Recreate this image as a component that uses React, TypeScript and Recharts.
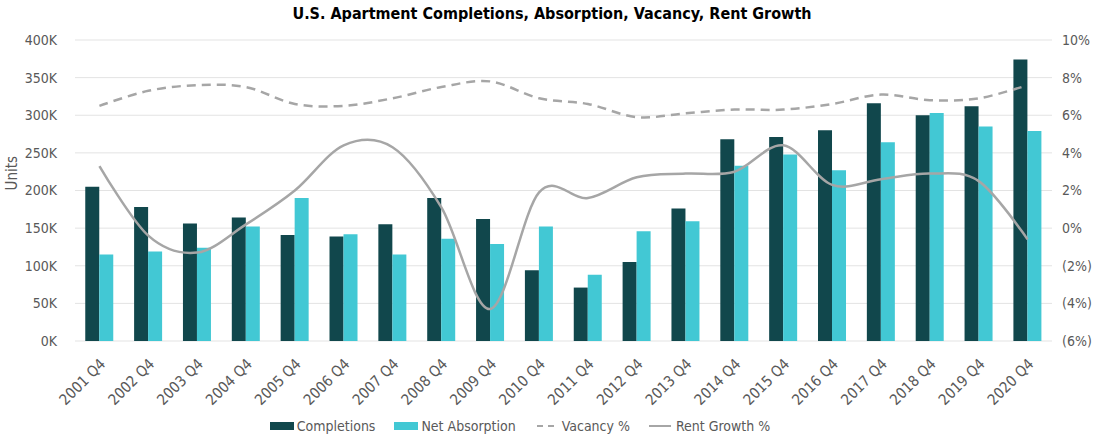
import { ComposedChart, Bar, Line, XAxis, YAxis, CartesianGrid, Legend } from 'recharts'

const periods = [
  '2001 Q4', '2002 Q4', '2003 Q4', '2004 Q4', '2005 Q4', '2006 Q4', '2007 Q4', '2008 Q4', '2009 Q4', '2010 Q4',
  '2011 Q4', '2012 Q4', '2013 Q4', '2014 Q4', '2015 Q4', '2016 Q4', '2017 Q4', '2018 Q4', '2019 Q4', '2020 Q4',
]
const completions = [
  205000, 178000, 156000, 164000, 141000, 139000, 155000, 190000, 162000, 94000,
  71000, 105000, 176000, 268000, 271000, 280000, 316000, 300000, 312000, 374000,
]
const netAbsorption = [
  115000, 119000, 124000, 152000, 190000, 142000, 115000, 136000, 129000, 152000,
  88000, 146000, 159000, 233000, 248000, 227000, 264000, 303000, 285000, 279000,
]
const vacancy = [
  6.5, 7.3, 7.6, 7.5, 6.6, 6.5, 6.9, 7.5, 7.8, 6.9,
  6.6, 5.9, 6.1, 6.3, 6.3, 6.6, 7.1, 6.8, 6.9, 7.6,
]
const rentGrowth = [
  3.3, -0.4, -1.3, 0.2, 2.0, 4.4, 4.3, 1.1, -4.3, 1.9,
  1.6, 2.7, 2.9, 3.0, 4.4, 2.3, 2.6, 2.9, 2.5, -0.6,
]
const unitTicks = [0, 50000, 100000, 150000, 200000, 250000, 300000, 350000, 400000]
const pctTicks = [-6, -4, -2, 0, 2, 4, 6, 8, 10]

const data = periods.map((period, i) => ({
  period,
  completions: completions[i],
  absorption: netAbsorption[i],
  vacancy: vacancy[i],
  rent: rentGrowth[i],
}))

const FONT = "'DejaVu Sans Condensed', Roboto, sans-serif"
const TEXT = '#595959'
const DARK = '#11474C'
const CYAN = '#42C8D4'
const GREY = '#A6A6A6'

const fmtUnits = (v: number) => `${v / 1000}K`
const fmtPct = (v: number) => (v < 0 ? `(${Math.abs(v)}%)` : `${v}%`)

// Excel-like smoothed line (cardinal / catmull-rom bezier)
function smoothCurve(context: any) {
  const k = 1 / 6
  let x0 = NaN, x1 = NaN, x2 = NaN, y0 = NaN, y1 = NaN, y2 = NaN
  let n = 0
  const seg = (x: number, y: number) => {
    context.bezierCurveTo(x1 + k * (x2 - x0), y1 + k * (y2 - y0), x2 + k * (x1 - x), y2 + k * (y1 - y), x2, y2)
  }
  return {
    areaStart() {},
    areaEnd() {},
    lineStart() {
      x0 = x1 = x2 = y0 = y1 = y2 = NaN
      n = 0
    },
    lineEnd() {
      if (n === 2) context.lineTo(x2, y2)
      else if (n === 3) seg(x1, y1)
    },
    point(x: number, y: number) {
      x = +x
      y = +y
      if (n === 0) {
        n = 1
        context.moveTo(x, y)
      } else if (n === 1) {
        n = 2
        x1 = x
        y1 = y
      } else {
        n = 3
        seg(x, y)
      }
      x0 = x1; x1 = x2; x2 = x
      y0 = y1; y1 = y2; y2 = y
    },
  }
}

function PeriodTick({ x, y, payload }: any) {
  const ax = x + 7
  const ay = y + 16
  return (
    <text
      x={ax}
      y={ay}
      transform={`rotate(-45, ${ax}, ${ay})`}
      textAnchor="end"
      fill={TEXT}
      fontSize={15}
      fontFamily={FONT}
    >
      {payload.value}
    </text>
  )
}

function LegendContent() {
  const items = [
    { label: 'Completions', kind: 'box', color: DARK },
    { label: 'Net Absorption', kind: 'box', color: CYAN },
    { label: 'Vacancy %', kind: 'dash', color: GREY },
    { label: 'Rent Growth %', kind: 'line', color: GREY },
  ]
  return (
    <div
      style={{
        display: 'flex',
        justifyContent: 'center',
        gap: 19,
        marginTop: 4,
        paddingRight: 64,
        fontFamily: FONT,
        fontSize: 14,
        color: TEXT,
      }}
    >
      {items.map((it) => (
        <div key={it.label} style={{ display: 'flex', alignItems: 'center', gap: 3 }}>
          <svg width={24} height={10}>
            {it.kind === 'box' && <rect x={0} y={1} width={24} height={8} fill={it.color} />}
            {it.kind === 'dash' && (
              <line x1={2} y1={5} x2={22} y2={5} stroke={it.color} strokeWidth={2} strokeDasharray="6 5" />
            )}
            {it.kind === 'line' && <line x1={0} y1={5} x2={22} y2={5} stroke={it.color} strokeWidth={2} />}
          </svg>
          <span>{it.label}</span>
        </div>
      ))}
    </div>
  )
}

export default function App() {
  return (
    <div style={{ position: 'absolute', left: 0, top: 0, width: 1104, height: 440, background: '#fff' }}>
      <div
        style={{
          position: 'absolute',
          top: 4,
          width: 1104,
          textAlign: 'center',
          fontFamily: FONT,
          fontWeight: 'bold',
          fontSize: 16,
          color: '#000',
        }}
      >
        U.S. Apartment Completions, Absorption, Vacancy, Rent Growth
      </div>
      <ComposedChart
        width={1104}
        height={440}
        data={data}
        margin={{ top: 40, right: 0, bottom: 0, left: 0 }}
        barCategoryGap="21%"
        barGap={0}
      >
        <CartesianGrid yAxisId="left" vertical={false} stroke="#E3E3E3" />
        <XAxis
          dataKey="period"
          axisLine={false}
          tickLine={false}
          interval={0}
          height={73}
          tick={<PeriodTick />}
        />
        <YAxis
          yAxisId="left"
          width={75}
          domain={[0, 400000]}
          ticks={unitTicks}
          tickFormatter={fmtUnits}
          axisLine={false}
          tickLine={false}
          tickMargin={12}
          tick={{ fill: TEXT, fontSize: 14, fontFamily: FONT }}
          label={{ value: 'Units', angle: -90, position: 'insideLeft', offset: 12, fill: TEXT, fontSize: 15, fontFamily: FONT }}
        />
        <YAxis
          yAxisId="right"
          orientation="right"
          width={52}
          domain={[-6, 10]}
          ticks={pctTicks}
          tickFormatter={fmtPct}
          axisLine={false}
          tickLine={false}
          tickMargin={4}
          tick={{ fill: TEXT, fontSize: 14, fontFamily: FONT, textAnchor: 'start' }}
        />
        <Legend verticalAlign="bottom" height={26} content={<LegendContent />} />
        <Bar yAxisId="left" dataKey="completions" name="Completions" fill={DARK} isAnimationActive={false} />
        <Bar yAxisId="left" dataKey="absorption" name="Net Absorption" fill={CYAN} isAnimationActive={false} />
        <Line
          yAxisId="right"
          type={smoothCurve as any}
          dataKey="vacancy"
          name="Vacancy %"
          stroke={GREY}
          strokeWidth={2.5}
          strokeDasharray="9 6"
          dot={false}
          isAnimationActive={false}
        />
        <Line
          yAxisId="right"
          type={smoothCurve as any}
          dataKey="rent"
          name="Rent Growth %"
          stroke={GREY}
          strokeWidth={2.5}
          dot={false}
          isAnimationActive={false}
        />
      </ComposedChart>
    </div>
  )
}
